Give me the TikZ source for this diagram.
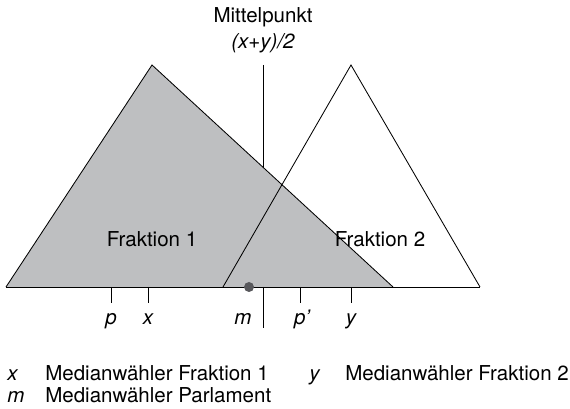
\documentclass[tikz,border=0pt]{standalone}
\usepackage{fontspec}
\setmainfont{TeX Gyre Heros}
\usepackage{tikz}
\usetikzlibrary{positioning,calc}
\definecolor{fracgray}{RGB}{190, 191, 193}
\definecolor{dotgray}{RGB}{88, 88, 92}

\begin{document}
\begin{tikzpicture}[
        lbl/.style={inner sep=0pt, anchor=base, font=\fontsize{14.6}{17}\selectfont},
        var/.style={lbl, font=\fontsize{14.6}{17}\selectfont\itshape},
        line/.style={line width=0.6pt, color=black},
        tick/.style={line width=0.6pt}
    ]
        \useasboundingbox (0,0) rectangle (14.25,10.225);

        % Axis points
        \coordinate (aL) at (0.15, 3.05);
        \coordinate (aR) at (12.0, 3.05);
        \coordinate (t1Top) at (3.8, 8.6);
        \coordinate (t1R) at (9.825, 3.05);
        \coordinate (t2L) at (5.575, 3.05);
        \coordinate (t2Top) at (8.775, 8.6);
        \coordinate (midTop) at (6.575, 8.6);
        \coordinate (midBot) at (6.575, 2.025);

        % Midpoint line
        \draw[line] (midTop) -- (midBot);

        % Fractions
        \fill[fracgray] (aL) -- (t1Top) -- (t1R) -- cycle;
        \draw[line] (aL) -- (t1Top) -- (t1R);
        \draw[line] (t2L) -- (t2Top) -- (aR);
        \draw[line] (aL) -- (aR);
        \draw[line] (6.575, 3.05) -- (midBot);

        % Ticks
        \foreach \tx/\tn in {2.775/p, 3.7/x, 7.5/pp, 8.775/y} {
            \coordinate (tk\tn) at (\tx, 3.05);
            \draw[tick] (tk\tn) -- ++(0, -0.4);
        }
        \fill[dotgray] (6.225, 3.05) circle (0.125);

        % Labels
        \node[lbl] (mTitle) at (6.575, 9.65) {Mittelpunkt};
        \node[var] (mForm) at (6.575, 9.0) {(x+y)/2};
        \node[lbl] (f1) at (3.8, 4.05) {Fraktion 1};
        \node[lbl] (f2) at (9.5, 4.05) {Fraktion 2};
        \node[var] (lp) at (2.775, 2.1) {p};
        \node[var] (lx) at (3.7, 2.1) {x};
        \node[var] (lm) at (6.075, 2.1) {m};
        \node[var] (lpp) at (7.55, 2.1) {p'};
        \node[var] (ly) at (8.775, 2.1) {y};

        % Legend
        \node[var, anchor=base west] (kx) at (0.175, 0.7) {x};
        \node[lbl, anchor=base west] (kxt) at (1.125, 0.7) {Medianwähler Fraktion 1};
        \node[var, anchor=base west] (ky) at (7.725, 0.7) {y};
        \node[lbl, anchor=base west] (kyt) at (8.625, 0.7) {Medianwähler Fraktion 2};
        \node[var, anchor=base west] (km) at (0.175, 0.15) {m};
        \node[lbl, anchor=base west] (kmt) at (1.125, 0.15) {Medianwähler Parlament};
    \end{tikzpicture}
\end{document}
